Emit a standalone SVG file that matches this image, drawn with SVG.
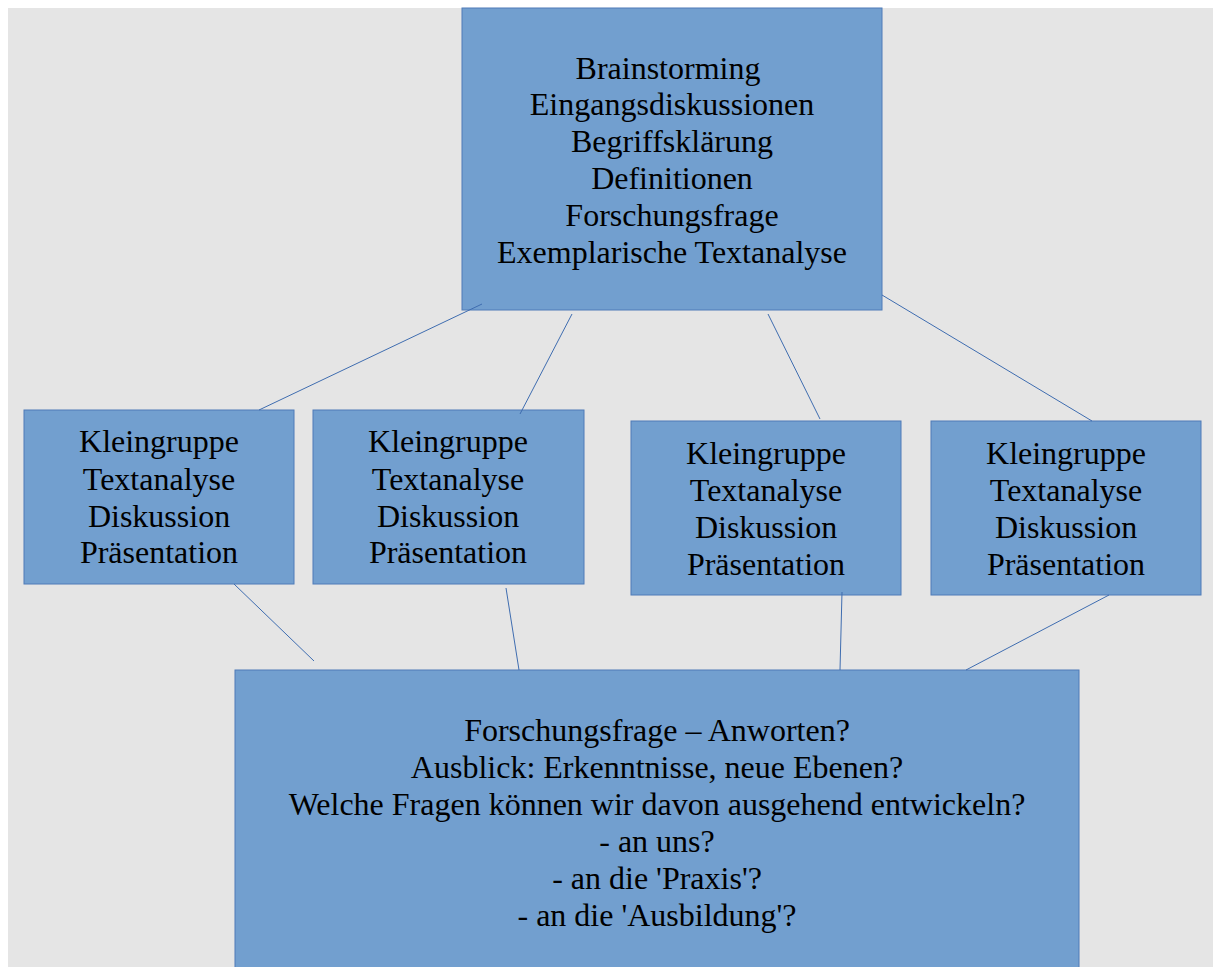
<svg xmlns="http://www.w3.org/2000/svg" width="1213" height="967" viewBox="0 0 1213 967">
<style>
.box{fill:#729fcf;stroke:#4f7bb8;stroke-width:1}
.t{font-family:"Liberation Serif","Times New Roman",serif;font-size:32px;fill:#000;text-anchor:middle}
.c{stroke:#3f6db0;stroke-width:1;fill:none}
</style>
<rect x="0" y="0" width="1213" height="967" fill="#ffffff"/>
<rect x="8" y="8" width="1205" height="959" fill="#e5e5e5"/>
<g id="top">
<rect class="box" x="462" y="8" width="420" height="302"/>
<text class="t" x="668" y="79">Brainstorming</text>
<text class="t" x="672" y="115">Eingangsdiskussionen</text>
<text class="t" x="672" y="152">Begriffsklärung</text>
<text class="t" x="672" y="189">Definitionen</text>
<text class="t" x="672" y="226">Forschungsfrage</text>
<text class="t" x="672" y="263">Exemplarische Textanalyse</text>
</g>
<g id="k1">
<rect class="box" x="24" y="410" width="270" height="174"/>
<text class="t" x="159" y="452">Kleingruppe</text>
<text class="t" x="159" y="490">Textanalyse</text>
<text class="t" x="159" y="527">Diskussion</text>
<text class="t" x="159" y="563">Präsentation</text>
</g>
<g id="k2">
<rect class="box" x="313" y="410" width="271" height="174"/>
<text class="t" x="448" y="452">Kleingruppe</text>
<text class="t" x="448" y="490">Textanalyse</text>
<text class="t" x="448" y="527">Diskussion</text>
<text class="t" x="448" y="563">Präsentation</text>
</g>
<g id="k3">
<rect class="box" x="631" y="421" width="270" height="174"/>
<text class="t" x="766" y="464">Kleingruppe</text>
<text class="t" x="766" y="501">Textanalyse</text>
<text class="t" x="766" y="538">Diskussion</text>
<text class="t" x="766" y="575">Präsentation</text>
</g>
<g id="k4">
<rect class="box" x="931" y="421" width="270" height="174"/>
<text class="t" x="1066" y="464">Kleingruppe</text>
<text class="t" x="1066" y="501">Textanalyse</text>
<text class="t" x="1066" y="538">Diskussion</text>
<text class="t" x="1066" y="575">Präsentation</text>
</g>
<g id="bottom">
<rect class="box" x="235" y="670" width="844" height="310"/>
<text class="t" x="657" y="741">Forschungsfrage – Anworten?</text>
<text class="t" x="657" y="778">Ausblick: Erkenntnisse, neue Ebenen?</text>
<text class="t" x="657" y="815">Welche Fragen können wir davon ausgehend entwickeln?</text>
<text class="t" x="657" y="852">- an uns?</text>
<text class="t" x="657" y="889">- an die 'Praxis'?</text>
<text class="t" x="657" y="926">- an die 'Ausbildung'?</text>
</g>
<g id="connectors">
<line class="c" x1="482" y1="304" x2="259" y2="410"/>
<line class="c" x1="572" y1="314" x2="520" y2="414"/>
<line class="c" x1="768" y1="314" x2="820" y2="419"/>
<line class="c" x1="882" y1="295" x2="1092" y2="421"/>
<line class="c" x1="234" y1="584" x2="314" y2="661"/>
<line class="c" x1="506" y1="588" x2="519" y2="670"/>
<line class="c" x1="842" y1="592" x2="840" y2="670"/>
<line class="c" x1="1109" y1="595" x2="966" y2="670"/>
</g>
</svg>
